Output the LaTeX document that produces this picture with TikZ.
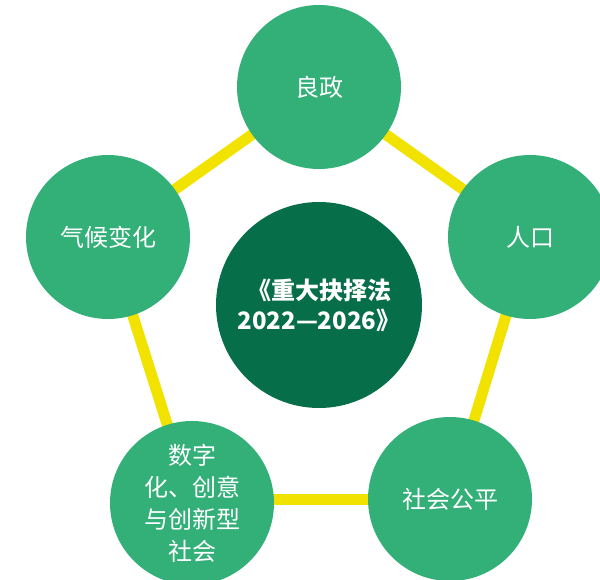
\documentclass[tikz,border=0pt]{standalone}
\usepackage{fontspec}
\newfontfamily\cjk{Noto Sans CJK SC}
\definecolor{lightg}{HTML}{33AF78}
\definecolor{darkg}{HTML}{076E4A}
\definecolor{linky}{HTML}{F2E200}
\begin{document}
\begin{tikzpicture}[x=1pt,y=-1pt,
  topic/.style={circle,fill=lightg,minimum size=164pt,inner sep=0pt,text=white,font=\cjk\fontsize{24}{32}\selectfont,align=center},
  hub/.style={circle,fill=darkg,minimum size=206pt,inner sep=0pt,text=white,font=\cjk\bfseries\fontsize{24}{30}\selectfont,align=center},
  link/.style={draw=linky,line width=11pt}]
\useasboundingbox (0,0) rectangle (600,580);
\clip (0,0) rectangle (600,580);
\coordinate (ptop) at (319,87);
\coordinate (pright) at (530,237);
\coordinate (pleft) at (108,237);
\coordinate (pbr) at (450,499);
\coordinate (pbl) at (192,503);
\draw[link] (ptop) -- (pright);
\draw[link] (pright) -- (pbr);
\draw[link] (pbr) -- (pbl |- pbr);
\draw[link] (pbl) -- (pleft);
\draw[link] (pleft) -- (ptop);
\node[topic] (top) at (ptop) {良政};
\node[topic] (right) at (pright) {人口};
\node[topic] (left) at (pleft) {气候变化};
\node[topic] (br) at (pbr) {社会公平};
\node[topic] (bl) at (pbl) {数字\\化、创意\\与创新型\\社会};
\node[hub] (hub) at (319,305) {《重大抉择法\\2022—2026》};
\end{tikzpicture}
\end{document}
